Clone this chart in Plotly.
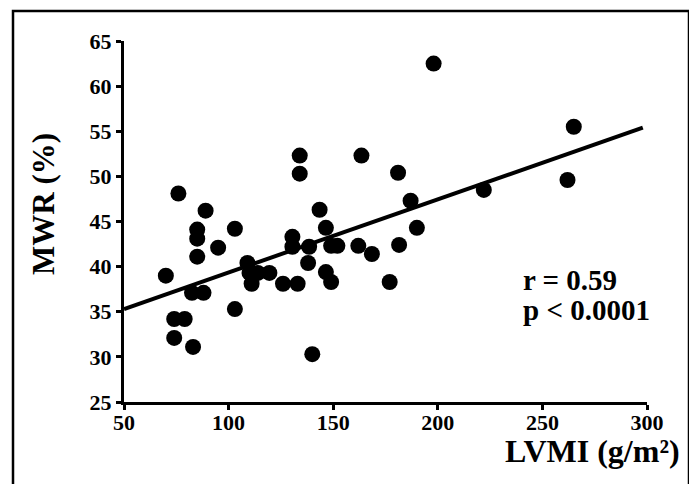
import plotly.graph_objects as go

# LVMI (g/m2) and MWR (%)
lvmi = [70, 76, 89, 85, 85, 85, 95, 103, 103, 74, 79, 74, 83, 82.5, 88,
        109, 110, 111, 114, 119.5, 126, 133, 130.5, 130.5, 138.5, 138, 140,
        134, 134, 143.5, 146.5, 149, 152, 146.5, 149, 162, 168.5, 177, 181.5,
        163.5, 181, 187, 190, 198, 222, 262, 265]
mwr = [39.0, 48.1, 46.2, 44.1, 43.1, 41.1, 42.1, 44.2, 35.3, 34.2, 34.2, 32.1, 31.1, 37.1, 37.1,
       40.4, 39.3, 38.1, 39.3, 39.3, 38.1, 38.1, 43.3, 42.2, 42.2, 40.4, 30.3,
       52.3, 50.3, 46.3, 44.3, 42.3, 42.3, 39.4, 38.3, 42.3, 41.4, 38.3, 42.4,
       52.3, 50.4, 47.3, 44.3, 62.5, 48.5, 49.6, 55.5]

# regression line endpoints
fit_x = [50, 298]
fit_y = [35.3, 55.4]

x_ticks = [50, 100, 150, 200, 250, 300]
y_ticks = [25, 30, 35, 40, 45, 50, 55, 60, 65]

stats_lines = ["r = 0.59", "p < 0.0001"]

FONT = "Liberation Serif"

fig = go.Figure()
fig.add_trace(go.Scatter(x=fit_x, y=fit_y, mode="lines",
                         line=dict(color="black", width=4), showlegend=False,
                         cliponaxis=False))
fig.add_trace(go.Scatter(x=lvmi, y=mwr, mode="markers",
                         marker=dict(color="black", size=16, line=dict(width=0)),
                         showlegend=False, cliponaxis=False))

# the page body has an 8px default margin; lay out so the result lands at page pixels
OFF = 8
W, H = 697 - OFF, 484 - OFF
L, T = 124 - OFF, 41 - OFF
R = W - (647 - OFF)
B = H - (402 - OFF)
pw, ph = W - L - R, H - T - B

def px2paper_x(px):
    return (px - OFF - L) / pw

def px2paper_y(py):
    return (H - B - (py - OFF)) / ph

tickfont = dict(family=FONT, size=22, color="black", weight="bold")

# tight line spacing: smaller base font size, larger glyphs via span style
stats_text = "<br>".join('<span style="font-size:29px">%s</span>' % s for s in stats_lines)

fig.update_layout(
    width=W, height=H,
    margin=dict(l=L, r=R, t=T, b=B),
    paper_bgcolor="white", plot_bgcolor="white",
    font=dict(family=FONT, color="black"),
    xaxis=dict(range=[50, 300], tickvals=x_ticks, ticktext=[str(v) for v in x_ticks],
               showgrid=False, zeroline=False, showline=True, linecolor="black", linewidth=3,
               ticks="outside", ticklen=5, tickwidth=3, tickcolor="black",
               ticklabelstandoff=-6, tickfont=tickfont),
    yaxis=dict(range=[25, 65], tickvals=y_ticks, ticktext=[str(v) for v in y_ticks],
               showgrid=False, zeroline=False, showline=True, linecolor="black", linewidth=3,
               ticks="outside", ticklen=5, tickwidth=3, tickcolor="black",
               tickfont=tickfont),
    shapes=[dict(type="rect", xref="paper", yref="paper",
                 x0=px2paper_x(13), x1=px2paper_x(689),
                 y0=px2paper_y(495), y1=px2paper_y(11),
                 line=dict(color="black", width=2.5), fillcolor="rgba(0,0,0,0)")],
    annotations=[
        dict(text="MWR (%)", xref="paper", yref="paper",
             x=px2paper_x(43), y=px2paper_y(204), xanchor="center", yanchor="middle",
             showarrow=False, textangle=-90,
             font=dict(family=FONT, size=31, color="black", weight="bold")),
        dict(text="LVMI (g/m²)", xref="paper", yref="paper",
             x=px2paper_x(682), y=px2paper_y(451), xanchor="right", yanchor="middle",
             showarrow=False,
             font=dict(family=FONT, size=32, color="black", weight="bold")),
        dict(text=stats_text, xref="paper", yref="paper",
             x=px2paper_x(521), y=px2paper_y(295), xanchor="left", yanchor="middle",
             align="left", showarrow=False,
             font=dict(family=FONT, size=23, color="black", weight="bold")),
    ],
)

fig.write_html("out.html")
